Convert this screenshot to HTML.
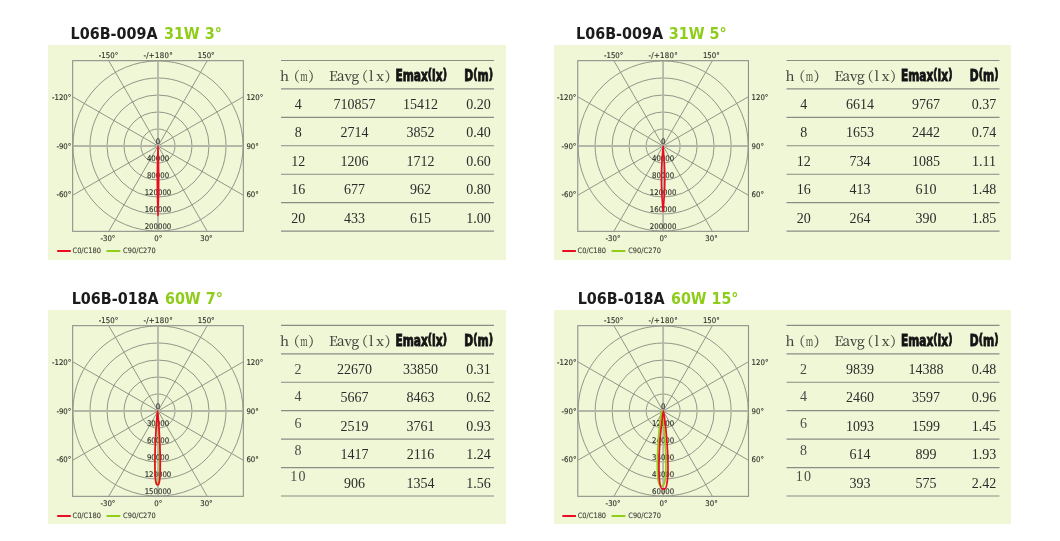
<!DOCTYPE html>
<html><head><meta charset="utf-8"><title>L06B photometric data</title><style>
html,body{margin:0;padding:0;background:#fff;}
svg{display:block;}
.ttl{font-family:"DejaVu Sans Condensed","DejaVu Sans",sans-serif;font-stretch:condensed;font-weight:bold;font-size:16.4px;stroke-width:0px;}
.lab text{font-family:"DejaVu Sans Condensed","DejaVu Sans",sans-serif;font-stretch:condensed;font-size:7.75px;fill:#303029;stroke:#303029;stroke-width:0.14px;}
.leg{font-family:"DejaVu Sans Condensed","DejaVu Sans",sans-serif;font-stretch:condensed;font-size:7.4px;fill:#3a3a32;stroke:#3a3a32;stroke-width:0.08px;}
.hs{font-family:"Noto Serif CJK SC",serif;font-size:13.6px;fill:#3d3d37;stroke:#3d3d37;stroke-width:0.12px;}
.imp{font-family:"DejaVu Sans Condensed","DejaVu Sans",sans-serif;font-stretch:condensed;font-weight:bold;font-size:15.5px;fill:#141414;stroke:#141414;stroke-width:0.85px;}
.par{font-size:13.6px;}
.num{font-family:"Liberation Serif",serif;font-size:14px;fill:#2b2b2b;}
.song{font-family:"Liberation Serif",serif;font-size:14px;fill:#4a4a46;letter-spacing:1.2px;}
</style></head>
<body><svg width="1060" height="541" viewBox="0 0 1060 541">
<rect width="1060" height="541" fill="#fff"/>
<rect x="48" y="45" width="458" height="215" fill="#f0f7d7"/>
<text x="70.60" y="39.3" class="ttl" fill="#1b1b1b" stroke="#1b1b1b" textLength="87.0" lengthAdjust="spacingAndGlyphs">L06B-009A</text>
<text x="163.90" y="39.3" class="ttl" fill="#8ecd1a" stroke="#8ecd1a" textLength="58.00" lengthAdjust="spacingAndGlyphs">31W 3°</text>
<g stroke="#8b9083" stroke-width="0.95" fill="none"><line x1="158" y1="146" x2="207.28" y2="231.35"/><line x1="158" y1="146" x2="108.72" y2="231.35"/><line x1="158" y1="146" x2="243.35" y2="195.28"/><line x1="158" y1="146" x2="72.65" y2="195.28"/><line x1="158" y1="146" x2="243.35" y2="96.72"/><line x1="158" y1="146" x2="72.65" y2="96.72"/><line x1="158" y1="146" x2="207.28" y2="60.65"/><line x1="158" y1="146" x2="108.72" y2="60.65"/><circle cx="158" cy="146" r="17.00"/><circle cx="158" cy="146" r="34.00"/><circle cx="158" cy="146" r="51.00"/><circle cx="158" cy="146" r="68.00"/><circle cx="158" cy="146" r="85.10"/></g>
<g stroke="#b3b7a7" stroke-width="1.8"><line x1="72.65" y1="146" x2="243.35" y2="146"/><line x1="158" y1="60.65" x2="158" y2="231.35"/></g>
<rect x="72.65" y="60.65" width="170.70" height="170.70" fill="none" stroke="#8e928a" stroke-width="1.1"/>
<g class="lab"><text x="158" y="143.7" text-anchor="middle">0</text><text x="158" y="160.8" text-anchor="middle">40000</text><text x="158" y="177.8" text-anchor="middle">80000</text><text x="158" y="194.8" text-anchor="middle">120000</text><text x="158" y="211.8" text-anchor="middle">160000</text><text x="158" y="228.8" text-anchor="middle">200000</text><text x="108.5" y="58.05" text-anchor="middle">-150°</text><text x="158.2" y="58.05" text-anchor="middle" letter-spacing="0.3">-/+180°</text><text x="206.2" y="58.05" text-anchor="middle">150°</text><text x="71.25" y="100.1" text-anchor="end">-120°</text><text x="246.45" y="100.1">120°</text><text x="71.25" y="149.0" text-anchor="end">-90°</text><text x="246.45" y="149.0">90°</text><text x="71.25" y="197.4" text-anchor="end">-60°</text><text x="246.45" y="197.4">60°</text><text x="107.9" y="241.35" text-anchor="middle">-30°</text><text x="158.3" y="241.35" text-anchor="middle">0°</text><text x="206.4" y="241.35" text-anchor="middle">30°</text></g>
<path d="M158.00,146.00 L158.03,146.77 L158.05,147.54 L158.08,148.32 L158.10,149.09 L158.13,149.86 L158.16,150.63 L158.18,151.41 L158.21,152.18 L158.23,152.95 L158.26,153.72 L158.28,154.49 L158.31,155.27 L158.33,156.04 L158.35,156.81 L158.38,157.58 L158.40,158.36 L158.42,159.13 L158.44,159.90 L158.46,160.67 L158.48,161.44 L158.50,162.22 L158.52,162.99 L158.54,163.76 L158.56,164.53 L158.57,165.31 L158.59,166.08 L158.61,166.85 L158.62,167.62 L158.64,168.39 L158.65,169.17 L158.66,169.94 L158.67,170.71 L158.69,171.48 L158.70,172.26 L158.70,173.03 L158.71,173.80 L158.72,174.57 L158.73,175.34 L158.73,176.12 L158.74,176.89 L158.74,177.66 L158.75,178.43 L158.75,179.21 L158.75,179.98 L158.75,180.75 L158.75,181.52 L158.75,182.29 L158.75,183.07 L158.74,183.84 L158.74,184.61 L158.73,185.38 L158.73,186.16 L158.72,186.93 L158.71,187.70 L158.70,188.47 L158.70,189.24 L158.69,190.02 L158.67,190.79 L158.66,191.56 L158.65,192.33 L158.64,193.11 L158.62,193.88 L158.61,194.65 L158.59,195.42 L158.57,196.19 L158.56,196.97 L158.54,197.74 L158.52,198.51 L158.50,199.28 L158.48,200.06 L158.46,200.83 L158.44,201.60 L158.42,202.37 L158.40,203.14 L158.38,203.92 L158.35,204.69 L158.33,205.46 L158.31,206.23 L158.28,207.01 L158.26,207.78 L158.23,208.55 L158.21,209.32 L158.18,210.09 L158.16,210.87 L158.13,211.64 L158.10,212.41 L158.08,213.18 L158.05,213.96 L158.03,214.73 L158.00,215.50 L158.00,215.50 L157.97,214.73 L157.95,213.96 L157.92,213.18 L157.90,212.41 L157.87,211.64 L157.84,210.87 L157.82,210.09 L157.79,209.32 L157.77,208.55 L157.74,207.78 L157.72,207.01 L157.69,206.23 L157.67,205.46 L157.65,204.69 L157.62,203.92 L157.60,203.14 L157.58,202.37 L157.56,201.60 L157.54,200.83 L157.52,200.06 L157.50,199.28 L157.48,198.51 L157.46,197.74 L157.44,196.97 L157.43,196.19 L157.41,195.42 L157.39,194.65 L157.38,193.88 L157.36,193.11 L157.35,192.33 L157.34,191.56 L157.33,190.79 L157.31,190.02 L157.30,189.24 L157.30,188.47 L157.29,187.70 L157.28,186.93 L157.27,186.16 L157.27,185.38 L157.26,184.61 L157.26,183.84 L157.25,183.07 L157.25,182.29 L157.25,181.52 L157.25,180.75 L157.25,179.98 L157.25,179.21 L157.25,178.43 L157.26,177.66 L157.26,176.89 L157.27,176.12 L157.27,175.34 L157.28,174.57 L157.29,173.80 L157.30,173.03 L157.30,172.26 L157.31,171.48 L157.33,170.71 L157.34,169.94 L157.35,169.17 L157.36,168.39 L157.38,167.62 L157.39,166.85 L157.41,166.08 L157.43,165.31 L157.44,164.53 L157.46,163.76 L157.48,162.99 L157.50,162.22 L157.52,161.44 L157.54,160.67 L157.56,159.90 L157.58,159.13 L157.60,158.36 L157.62,157.58 L157.65,156.81 L157.67,156.04 L157.69,155.27 L157.72,154.49 L157.74,153.72 L157.77,152.95 L157.79,152.18 L157.82,151.41 L157.84,150.63 L157.87,149.86 L157.90,149.09 L157.92,148.32 L157.95,147.54 L157.97,146.77 L158.00,146.00Z" fill="#ea0c20" stroke="#ea0c20" stroke-width="1.5" stroke-linejoin="round"/>
<line x1="57.2" y1="251" x2="70.8" y2="251" stroke="#ea0c20" stroke-width="2"/>
<text x="72.5" y="252.8" class="leg">C0/C180</text>
<line x1="106.5" y1="251" x2="120.3" y2="251" stroke="#91cd19" stroke-width="2"/>
<text x="123.1" y="252.8" class="leg">C90/C270</text>
<line x1="281" y1="60.5" x2="494" y2="60.5" stroke="#8a8c85" stroke-width="1.15"/>
<line x1="281" y1="88.93" x2="494" y2="88.93" stroke="#8a8c85" stroke-width="1.15"/>
<line x1="281" y1="117.36" x2="494" y2="117.36" stroke="#8a8c85" stroke-width="1.15"/>
<line x1="281" y1="145.79" x2="494" y2="145.79" stroke="#8a8c85" stroke-width="1.15"/>
<line x1="281" y1="174.22" x2="494" y2="174.22" stroke="#8a8c85" stroke-width="1.15"/>
<line x1="281" y1="202.65" x2="494" y2="202.65" stroke="#8a8c85" stroke-width="1.15"/>
<line x1="281" y1="231.08" x2="494" y2="231.08" stroke="#8a8c85" stroke-width="1.15"/>
<text x="280.00" y="80.7" class="hs">h</text>
<text x="286.30" y="80.7" class="hs">（</text>
<text transform="translate(300.20,80.7) scale(0.56,1)" class="hs">m</text>
<text x="308.00" y="80.7" class="hs">）</text>
<text x="329.00" y="80.7" class="hs">E</text>
<text x="337.00" y="80.7" class="hs">a</text>
<text x="344.60" y="80.7" class="hs">v</text>
<text x="351.40" y="80.7" class="hs">g</text>
<text x="354.40" y="80.7" class="hs">（</text>
<text x="368.90" y="80.7" class="hs">l</text>
<text x="376.20" y="80.7" class="hs">x</text>
<text x="384.40" y="80.7" class="hs">）</text>
<text x="395.4" y="80.5" class="imp" textLength="51.5" lengthAdjust="spacingAndGlyphs">Emax<tspan class="par" dy="-1.1">(</tspan><tspan dy="1.1">lx</tspan><tspan class="par" dy="-1.1">)</tspan></text>
<text x="464.3" y="80.5" class="imp" textLength="28.7" lengthAdjust="spacingAndGlyphs">D<tspan class="par" dy="-1.1">(</tspan><tspan dy="1.1">m</tspan><tspan class="par" dy="-1.1">)</tspan></text>
<text x="298.3" y="109.03" class="num" text-anchor="middle">4</text>
<text x="354.5" y="109.03" class="num" text-anchor="middle">710857</text>
<text x="420.6" y="109.03" class="num" text-anchor="middle">15412</text>
<text x="478.5" y="109.03" class="num" text-anchor="middle">0.20</text>
<text x="298.3" y="137.46" class="num" text-anchor="middle">8</text>
<text x="354.5" y="137.46" class="num" text-anchor="middle">2714</text>
<text x="420.6" y="137.46" class="num" text-anchor="middle">3852</text>
<text x="478.5" y="137.46" class="num" text-anchor="middle">0.40</text>
<text x="298.3" y="165.89" class="num" text-anchor="middle">12</text>
<text x="354.5" y="165.89" class="num" text-anchor="middle">1206</text>
<text x="420.6" y="165.89" class="num" text-anchor="middle">1712</text>
<text x="478.5" y="165.89" class="num" text-anchor="middle">0.60</text>
<text x="298.3" y="194.32" class="num" text-anchor="middle">16</text>
<text x="354.5" y="194.32" class="num" text-anchor="middle">677</text>
<text x="420.6" y="194.32" class="num" text-anchor="middle">962</text>
<text x="478.5" y="194.32" class="num" text-anchor="middle">0.80</text>
<text x="298.3" y="222.75" class="num" text-anchor="middle">20</text>
<text x="354.5" y="222.75" class="num" text-anchor="middle">433</text>
<text x="420.6" y="222.75" class="num" text-anchor="middle">615</text>
<text x="478.5" y="222.75" class="num" text-anchor="middle">1.00</text>
<rect x="554" y="45" width="457" height="215" fill="#f0f7d7"/>
<text x="576.10" y="39.3" class="ttl" fill="#1b1b1b" stroke="#1b1b1b" textLength="87.0" lengthAdjust="spacingAndGlyphs">L06B-009A</text>
<text x="668.80" y="39.3" class="ttl" fill="#8ecd1a" stroke="#8ecd1a" textLength="58.00" lengthAdjust="spacingAndGlyphs">31W 5°</text>
<g stroke="#8b9083" stroke-width="0.95" fill="none"><line x1="663.1" y1="146" x2="712.38" y2="231.35"/><line x1="663.1" y1="146" x2="613.82" y2="231.35"/><line x1="663.1" y1="146" x2="748.45" y2="195.28"/><line x1="663.1" y1="146" x2="577.75" y2="195.28"/><line x1="663.1" y1="146" x2="748.45" y2="96.72"/><line x1="663.1" y1="146" x2="577.75" y2="96.72"/><line x1="663.1" y1="146" x2="712.38" y2="60.65"/><line x1="663.1" y1="146" x2="613.82" y2="60.65"/><circle cx="663.1" cy="146" r="17.00"/><circle cx="663.1" cy="146" r="34.00"/><circle cx="663.1" cy="146" r="51.00"/><circle cx="663.1" cy="146" r="68.00"/><circle cx="663.1" cy="146" r="85.10"/></g>
<g stroke="#b3b7a7" stroke-width="1.8"><line x1="577.75" y1="146" x2="748.45" y2="146"/><line x1="663.1" y1="60.65" x2="663.1" y2="231.35"/></g>
<rect x="577.75" y="60.65" width="170.70" height="170.70" fill="none" stroke="#8e928a" stroke-width="1.1"/>
<g class="lab"><text x="663.1" y="143.7" text-anchor="middle">0</text><text x="663.1" y="160.8" text-anchor="middle">40000</text><text x="663.1" y="177.8" text-anchor="middle">80000</text><text x="663.1" y="194.8" text-anchor="middle">120000</text><text x="663.1" y="211.8" text-anchor="middle">160000</text><text x="663.1" y="228.8" text-anchor="middle">200000</text><text x="613.6" y="58.05" text-anchor="middle">-150°</text><text x="663.3" y="58.05" text-anchor="middle" letter-spacing="0.3">-/+180°</text><text x="711.3" y="58.05" text-anchor="middle">150°</text><text x="576.35" y="100.1" text-anchor="end">-120°</text><text x="751.55" y="100.1">120°</text><text x="576.35" y="149.0" text-anchor="end">-90°</text><text x="751.55" y="149.0">90°</text><text x="576.35" y="197.4" text-anchor="end">-60°</text><text x="751.55" y="197.4">60°</text><text x="613.0" y="241.35" text-anchor="middle">-30°</text><text x="663.4" y="241.35" text-anchor="middle">0°</text><text x="711.5" y="241.35" text-anchor="middle">30°</text></g>
<path d="M663.10,146.00 L663.16,146.73 L663.22,147.46 L663.28,148.18 L663.34,148.91 L663.40,149.64 L663.45,150.37 L663.51,151.09 L663.57,151.82 L663.63,152.55 L663.68,153.28 L663.74,154.01 L663.79,154.73 L663.85,155.46 L663.90,156.19 L663.95,156.92 L664.00,157.64 L664.05,158.37 L664.10,159.10 L664.15,159.83 L664.19,160.56 L664.24,161.28 L664.28,162.01 L664.32,162.74 L664.36,163.47 L664.40,164.19 L664.44,164.92 L664.48,165.65 L664.51,166.38 L664.54,167.11 L664.57,167.83 L664.60,168.56 L664.63,169.29 L664.65,170.02 L664.68,170.74 L664.70,171.47 L664.72,172.20 L664.73,172.93 L664.75,173.66 L664.76,174.38 L664.77,175.11 L664.78,175.84 L664.79,176.57 L664.80,177.29 L664.80,178.02 L664.80,178.75 L664.80,179.48 L664.80,180.21 L664.79,180.93 L664.78,181.66 L664.77,182.39 L664.76,183.12 L664.75,183.84 L664.73,184.57 L664.72,185.30 L664.70,186.03 L664.68,186.76 L664.65,187.48 L664.63,188.21 L664.60,188.94 L664.57,189.67 L664.54,190.39 L664.51,191.12 L664.48,191.85 L664.44,192.58 L664.40,193.31 L664.36,194.03 L664.32,194.76 L664.28,195.49 L664.24,196.22 L664.19,196.94 L664.15,197.67 L664.10,198.40 L664.05,199.13 L664.00,199.86 L663.95,200.58 L663.90,201.31 L663.85,202.04 L663.79,202.77 L663.74,203.49 L663.68,204.22 L663.63,204.95 L663.57,205.68 L663.51,206.41 L663.45,207.13 L663.40,207.86 L663.34,208.59 L663.28,209.32 L663.22,210.04 L663.16,210.77 L663.10,211.50 L663.10,211.50 L663.04,210.77 L662.98,210.04 L662.92,209.32 L662.86,208.59 L662.80,207.86 L662.75,207.13 L662.69,206.41 L662.63,205.68 L662.57,204.95 L662.52,204.22 L662.46,203.49 L662.41,202.77 L662.35,202.04 L662.30,201.31 L662.25,200.58 L662.20,199.86 L662.15,199.13 L662.10,198.40 L662.05,197.67 L662.01,196.94 L661.96,196.22 L661.92,195.49 L661.88,194.76 L661.84,194.03 L661.80,193.31 L661.76,192.58 L661.72,191.85 L661.69,191.12 L661.66,190.39 L661.63,189.67 L661.60,188.94 L661.57,188.21 L661.55,187.48 L661.52,186.76 L661.50,186.03 L661.48,185.30 L661.47,184.57 L661.45,183.84 L661.44,183.12 L661.43,182.39 L661.42,181.66 L661.41,180.93 L661.40,180.21 L661.40,179.48 L661.40,178.75 L661.40,178.02 L661.40,177.29 L661.41,176.57 L661.42,175.84 L661.43,175.11 L661.44,174.38 L661.45,173.66 L661.47,172.93 L661.48,172.20 L661.50,171.47 L661.52,170.74 L661.55,170.02 L661.57,169.29 L661.60,168.56 L661.63,167.83 L661.66,167.11 L661.69,166.38 L661.72,165.65 L661.76,164.92 L661.80,164.19 L661.84,163.47 L661.88,162.74 L661.92,162.01 L661.96,161.28 L662.01,160.56 L662.05,159.83 L662.10,159.10 L662.15,158.37 L662.20,157.64 L662.25,156.92 L662.30,156.19 L662.35,155.46 L662.41,154.73 L662.46,154.01 L662.52,153.28 L662.57,152.55 L662.63,151.82 L662.69,151.09 L662.75,150.37 L662.80,149.64 L662.86,148.91 L662.92,148.18 L662.98,147.46 L663.04,146.73 L663.10,146.00Z" fill="none" stroke="#ea0c20" stroke-width="1.6" stroke-linejoin="round"/>
<line x1="562.3" y1="251" x2="575.9" y2="251" stroke="#ea0c20" stroke-width="2"/>
<text x="577.6" y="252.8" class="leg">C0/C180</text>
<line x1="611.6" y1="251" x2="625.4" y2="251" stroke="#91cd19" stroke-width="2"/>
<text x="628.2" y="252.8" class="leg">C90/C270</text>
<line x1="786.5" y1="60.5" x2="999.5" y2="60.5" stroke="#8a8c85" stroke-width="1.15"/>
<line x1="786.5" y1="88.93" x2="999.5" y2="88.93" stroke="#8a8c85" stroke-width="1.15"/>
<line x1="786.5" y1="117.36" x2="999.5" y2="117.36" stroke="#8a8c85" stroke-width="1.15"/>
<line x1="786.5" y1="145.79" x2="999.5" y2="145.79" stroke="#8a8c85" stroke-width="1.15"/>
<line x1="786.5" y1="174.22" x2="999.5" y2="174.22" stroke="#8a8c85" stroke-width="1.15"/>
<line x1="786.5" y1="202.65" x2="999.5" y2="202.65" stroke="#8a8c85" stroke-width="1.15"/>
<line x1="786.5" y1="231.08" x2="999.5" y2="231.08" stroke="#8a8c85" stroke-width="1.15"/>
<text x="785.50" y="80.7" class="hs">h</text>
<text x="791.80" y="80.7" class="hs">（</text>
<text transform="translate(805.70,80.7) scale(0.56,1)" class="hs">m</text>
<text x="813.50" y="80.7" class="hs">）</text>
<text x="834.50" y="80.7" class="hs">E</text>
<text x="842.50" y="80.7" class="hs">a</text>
<text x="850.10" y="80.7" class="hs">v</text>
<text x="856.90" y="80.7" class="hs">g</text>
<text x="859.90" y="80.7" class="hs">（</text>
<text x="874.40" y="80.7" class="hs">l</text>
<text x="881.70" y="80.7" class="hs">x</text>
<text x="889.90" y="80.7" class="hs">）</text>
<text x="900.9" y="80.5" class="imp" textLength="51.5" lengthAdjust="spacingAndGlyphs">Emax<tspan class="par" dy="-1.1">(</tspan><tspan dy="1.1">lx</tspan><tspan class="par" dy="-1.1">)</tspan></text>
<text x="969.8" y="80.5" class="imp" textLength="28.7" lengthAdjust="spacingAndGlyphs">D<tspan class="par" dy="-1.1">(</tspan><tspan dy="1.1">m</tspan><tspan class="par" dy="-1.1">)</tspan></text>
<text x="803.8" y="109.03" class="num" text-anchor="middle">4</text>
<text x="860.0" y="109.03" class="num" text-anchor="middle">6614</text>
<text x="926.1" y="109.03" class="num" text-anchor="middle">9767</text>
<text x="984.0" y="109.03" class="num" text-anchor="middle">0.37</text>
<text x="803.8" y="137.46" class="num" text-anchor="middle">8</text>
<text x="860.0" y="137.46" class="num" text-anchor="middle">1653</text>
<text x="926.1" y="137.46" class="num" text-anchor="middle">2442</text>
<text x="984.0" y="137.46" class="num" text-anchor="middle">0.74</text>
<text x="803.8" y="165.89" class="num" text-anchor="middle">12</text>
<text x="860.0" y="165.89" class="num" text-anchor="middle">734</text>
<text x="926.1" y="165.89" class="num" text-anchor="middle">1085</text>
<text x="984.0" y="165.89" class="num" text-anchor="middle">1.11</text>
<text x="803.8" y="194.32" class="num" text-anchor="middle">16</text>
<text x="860.0" y="194.32" class="num" text-anchor="middle">413</text>
<text x="926.1" y="194.32" class="num" text-anchor="middle">610</text>
<text x="984.0" y="194.32" class="num" text-anchor="middle">1.48</text>
<text x="803.8" y="222.75" class="num" text-anchor="middle">20</text>
<text x="860.0" y="222.75" class="num" text-anchor="middle">264</text>
<text x="926.1" y="222.75" class="num" text-anchor="middle">390</text>
<text x="984.0" y="222.75" class="num" text-anchor="middle">1.85</text>
<rect x="48" y="310" width="458" height="214" fill="#f0f7d7"/>
<text x="71.70" y="304.4" class="ttl" fill="#1b1b1b" stroke="#1b1b1b" textLength="87.0" lengthAdjust="spacingAndGlyphs">L06B-018A</text>
<text x="164.90" y="304.4" class="ttl" fill="#8ecd1a" stroke="#8ecd1a" textLength="58.00" lengthAdjust="spacingAndGlyphs">60W 7°</text>
<g stroke="#8b9083" stroke-width="0.95" fill="none"><line x1="158" y1="411" x2="207.28" y2="496.35"/><line x1="158" y1="411" x2="108.72" y2="496.35"/><line x1="158" y1="411" x2="243.35" y2="460.28"/><line x1="158" y1="411" x2="72.65" y2="460.28"/><line x1="158" y1="411" x2="243.35" y2="361.72"/><line x1="158" y1="411" x2="72.65" y2="361.72"/><line x1="158" y1="411" x2="207.28" y2="325.65"/><line x1="158" y1="411" x2="108.72" y2="325.65"/><circle cx="158" cy="411" r="17.00"/><circle cx="158" cy="411" r="34.00"/><circle cx="158" cy="411" r="51.00"/><circle cx="158" cy="411" r="68.00"/><circle cx="158" cy="411" r="85.10"/></g>
<g stroke="#b3b7a7" stroke-width="1.8"><line x1="72.65" y1="411" x2="243.35" y2="411"/><line x1="158" y1="325.65" x2="158" y2="496.35"/></g>
<rect x="72.65" y="325.65" width="170.70" height="170.70" fill="none" stroke="#8e928a" stroke-width="1.1"/>
<g class="lab"><text x="158" y="408.7" text-anchor="middle">0</text><text x="158" y="425.8" text-anchor="middle">30000</text><text x="158" y="442.8" text-anchor="middle">60000</text><text x="158" y="459.8" text-anchor="middle">90000</text><text x="158" y="476.8" text-anchor="middle">120000</text><text x="158" y="493.8" text-anchor="middle">150000</text><text x="108.5" y="323.05" text-anchor="middle">-150°</text><text x="158.2" y="323.05" text-anchor="middle" letter-spacing="0.3">-/+180°</text><text x="206.2" y="323.05" text-anchor="middle">150°</text><text x="71.25" y="365.1" text-anchor="end">-120°</text><text x="246.45" y="365.1">120°</text><text x="71.25" y="414.0" text-anchor="end">-90°</text><text x="246.45" y="414.0">90°</text><text x="71.25" y="462.4" text-anchor="end">-60°</text><text x="246.45" y="462.4">60°</text><text x="107.9" y="506.35" text-anchor="middle">-30°</text><text x="158.3" y="506.35" text-anchor="middle">0°</text><text x="206.4" y="506.35" text-anchor="middle">30°</text></g>
<path d="M157.30,411.01 L157.30,411.01 L157.30,411.02 L157.30,411.03 L157.30,411.03 L157.29,411.04 L157.29,411.06 L157.29,411.07 L157.29,411.09 L157.29,411.12 L157.28,411.15 L157.28,411.19 L157.27,411.24 L157.27,411.29 L157.26,411.36 L157.25,411.45 L157.24,411.54 L157.23,411.66 L157.22,411.80 L157.20,411.96 L157.18,412.15 L157.16,412.38 L157.14,412.63 L157.11,412.92 L157.08,413.26 L157.05,413.63 L157.02,414.06 L156.98,414.54 L156.93,415.08 L156.89,415.68 L156.84,416.34 L156.78,417.07 L156.72,417.88 L156.66,418.75 L156.59,419.70 L156.53,420.73 L156.45,421.83 L156.38,423.01 L156.30,424.27 L156.22,425.61 L156.14,427.02 L156.06,428.51 L155.98,430.07 L155.89,431.69 L155.81,433.38 L155.73,435.12 L155.65,436.91 L155.57,438.75 L155.50,440.63 L155.43,442.53 L155.36,444.46 L155.30,446.41 L155.25,448.36 L155.20,450.31 L155.15,452.26 L155.11,454.18 L155.08,456.09 L155.06,457.96 L155.04,459.79 L155.03,461.57 L155.03,463.31 L155.04,464.98 L155.05,466.60 L155.07,468.14 L155.10,469.62 L155.13,471.01 L155.17,472.33 L155.22,473.57 L155.27,474.73 L155.33,475.81 L155.40,476.81 L155.47,477.72 L155.54,478.56 L155.62,479.31 L155.71,479.99 L155.79,480.59 L155.88,481.13 L155.97,481.59 L156.07,481.99 L156.17,482.34 L156.27,482.62 L156.37,482.86 L156.47,483.05 L156.57,483.20 L156.67,483.31 L156.78,483.39 L156.88,483.44 L156.99,483.48 L157.09,483.49 L157.20,483.50 L157.30,483.50 L157.40,483.50 L157.51,483.49 L157.61,483.48 L157.72,483.44 L157.82,483.39 L157.93,483.31 L158.03,483.20 L158.13,483.05 L158.23,482.86 L158.33,482.62 L158.43,482.34 L158.53,481.99 L158.63,481.59 L158.72,481.13 L158.81,480.59 L158.89,479.99 L158.98,479.31 L159.06,478.56 L159.13,477.72 L159.20,476.81 L159.27,475.81 L159.33,474.73 L159.38,473.57 L159.43,472.33 L159.47,471.01 L159.50,469.62 L159.53,468.14 L159.55,466.60 L159.56,464.98 L159.57,463.31 L159.57,461.57 L159.56,459.79 L159.54,457.96 L159.52,456.09 L159.49,454.18 L159.45,452.26 L159.40,450.31 L159.35,448.36 L159.30,446.41 L159.24,444.46 L159.17,442.53 L159.10,440.63 L159.03,438.75 L158.95,436.91 L158.87,435.12 L158.79,433.38 L158.71,431.69 L158.62,430.07 L158.54,428.51 L158.46,427.02 L158.38,425.61 L158.30,424.27 L158.22,423.01 L158.15,421.83 L158.07,420.73 L158.01,419.70 L157.94,418.75 L157.88,417.88 L157.82,417.07 L157.76,416.34 L157.71,415.68 L157.67,415.08 L157.62,414.54 L157.58,414.06 L157.55,413.63 L157.52,413.26 L157.49,412.92 L157.46,412.63 L157.44,412.38 L157.42,412.15 L157.40,411.96 L157.38,411.80 L157.37,411.66 L157.36,411.54 L157.35,411.45 L157.34,411.36 L157.33,411.29 L157.33,411.24 L157.32,411.19 L157.32,411.15 L157.31,411.12 L157.31,411.09 L157.31,411.07 L157.31,411.06 L157.31,411.04 L157.30,411.03 L157.30,411.03 L157.30,411.02 L157.30,411.01 L157.30,411.01Z" fill="none" stroke="#91cd19" stroke-width="1.4" stroke-linejoin="round"/>
<path d="M157.60,411.01 L157.60,411.01 L157.60,411.02 L157.60,411.03 L157.60,411.03 L157.59,411.04 L157.59,411.06 L157.59,411.07 L157.59,411.09 L157.58,411.12 L157.58,411.15 L157.57,411.19 L157.57,411.24 L157.56,411.30 L157.55,411.37 L157.54,411.45 L157.53,411.55 L157.52,411.67 L157.50,411.81 L157.48,411.98 L157.46,412.17 L157.44,412.40 L157.41,412.66 L157.38,412.95 L157.35,413.29 L157.31,413.68 L157.26,414.11 L157.22,414.60 L157.17,415.15 L157.11,415.76 L157.05,416.43 L156.99,417.18 L156.92,417.99 L156.85,418.88 L156.77,419.85 L156.69,420.89 L156.60,422.01 L156.51,423.22 L156.42,424.50 L156.33,425.86 L156.23,427.30 L156.13,428.81 L156.04,430.39 L155.94,432.05 L155.84,433.76 L155.75,435.53 L155.65,437.36 L155.56,439.23 L155.48,441.14 L155.39,443.08 L155.31,445.04 L155.24,447.02 L155.18,449.01 L155.12,451.00 L155.06,452.98 L155.02,454.94 L154.98,456.88 L154.96,458.78 L154.94,460.65 L154.92,462.46 L154.92,464.23 L154.93,465.94 L154.94,467.58 L154.97,469.15 L155.00,470.65 L155.04,472.08 L155.09,473.42 L155.14,474.68 L155.21,475.87 L155.28,476.96 L155.35,477.98 L155.44,478.91 L155.53,479.76 L155.62,480.53 L155.72,481.22 L155.82,481.84 L155.93,482.38 L156.03,482.85 L156.15,483.26 L156.26,483.61 L156.38,483.91 L156.50,484.15 L156.62,484.34 L156.74,484.49 L156.86,484.60 L156.98,484.69 L157.11,484.74 L157.23,484.78 L157.35,484.79 L157.48,484.80 L157.60,484.80 L157.72,484.80 L157.85,484.79 L157.97,484.78 L158.09,484.74 L158.22,484.69 L158.34,484.60 L158.46,484.49 L158.58,484.34 L158.70,484.15 L158.82,483.91 L158.94,483.61 L159.05,483.26 L159.17,482.85 L159.27,482.38 L159.38,481.84 L159.48,481.22 L159.58,480.53 L159.67,479.76 L159.76,478.91 L159.85,477.98 L159.92,476.96 L159.99,475.87 L160.06,474.68 L160.11,473.42 L160.16,472.08 L160.20,470.65 L160.23,469.15 L160.26,467.58 L160.27,465.94 L160.28,464.23 L160.28,462.46 L160.26,460.65 L160.24,458.78 L160.22,456.88 L160.18,454.94 L160.14,452.98 L160.08,451.00 L160.02,449.01 L159.96,447.02 L159.89,445.04 L159.81,443.08 L159.72,441.14 L159.64,439.23 L159.55,437.36 L159.45,435.53 L159.36,433.76 L159.26,432.05 L159.16,430.39 L159.07,428.81 L158.97,427.30 L158.87,425.86 L158.78,424.50 L158.69,423.22 L158.60,422.01 L158.51,420.89 L158.43,419.85 L158.35,418.88 L158.28,417.99 L158.21,417.18 L158.15,416.43 L158.09,415.76 L158.03,415.15 L157.98,414.60 L157.94,414.11 L157.89,413.68 L157.85,413.29 L157.82,412.95 L157.79,412.66 L157.76,412.40 L157.74,412.17 L157.72,411.98 L157.70,411.81 L157.68,411.67 L157.67,411.55 L157.66,411.45 L157.65,411.37 L157.64,411.30 L157.63,411.24 L157.63,411.19 L157.62,411.15 L157.62,411.12 L157.61,411.09 L157.61,411.07 L157.61,411.06 L157.61,411.04 L157.60,411.03 L157.60,411.03 L157.60,411.02 L157.60,411.01 L157.60,411.01Z" fill="none" stroke="#ea0c20" stroke-width="1.7" stroke-linejoin="round"/>
<line x1="57.2" y1="516" x2="70.8" y2="516" stroke="#ea0c20" stroke-width="2"/>
<text x="72.5" y="517.8" class="leg">C0/C180</text>
<line x1="106.5" y1="516" x2="120.3" y2="516" stroke="#91cd19" stroke-width="2"/>
<text x="123.1" y="517.8" class="leg">C90/C270</text>
<line x1="281" y1="325.4" x2="494" y2="325.4" stroke="#8a8c85" stroke-width="1.15"/>
<line x1="281" y1="353.83" x2="494" y2="353.83" stroke="#8a8c85" stroke-width="1.15"/>
<line x1="281" y1="382.26" x2="494" y2="382.26" stroke="#8a8c85" stroke-width="1.15"/>
<line x1="281" y1="410.69" x2="494" y2="410.69" stroke="#8a8c85" stroke-width="1.15"/>
<line x1="281" y1="439.12" x2="494" y2="439.12" stroke="#8a8c85" stroke-width="1.15"/>
<line x1="281" y1="467.55" x2="494" y2="467.55" stroke="#8a8c85" stroke-width="1.15"/>
<line x1="281" y1="495.98" x2="494" y2="495.98" stroke="#8a8c85" stroke-width="1.15"/>
<text x="280.00" y="345.7" class="hs">h</text>
<text x="286.30" y="345.7" class="hs">（</text>
<text transform="translate(300.20,345.7) scale(0.56,1)" class="hs">m</text>
<text x="308.00" y="345.7" class="hs">）</text>
<text x="329.00" y="345.7" class="hs">E</text>
<text x="337.00" y="345.7" class="hs">a</text>
<text x="344.60" y="345.7" class="hs">v</text>
<text x="351.40" y="345.7" class="hs">g</text>
<text x="354.40" y="345.7" class="hs">（</text>
<text x="368.90" y="345.7" class="hs">l</text>
<text x="376.20" y="345.7" class="hs">x</text>
<text x="384.40" y="345.7" class="hs">）</text>
<text x="395.4" y="345.5" class="imp" textLength="51.5" lengthAdjust="spacingAndGlyphs">Emax<tspan class="par" dy="-1.1">(</tspan><tspan dy="1.1">lx</tspan><tspan class="par" dy="-1.1">)</tspan></text>
<text x="464.3" y="345.5" class="imp" textLength="28.7" lengthAdjust="spacingAndGlyphs">D<tspan class="par" dy="-1.1">(</tspan><tspan dy="1.1">m</tspan><tspan class="par" dy="-1.1">)</tspan></text>
<text x="298.5" y="373.7" class="song" text-anchor="middle">2</text>
<text x="354.5" y="373.93" class="num" text-anchor="middle">22670</text>
<text x="420.6" y="373.93" class="num" text-anchor="middle">33850</text>
<text x="478.5" y="373.93" class="num" text-anchor="middle">0.31</text>
<text x="298.5" y="401.4" class="song" text-anchor="middle">4</text>
<text x="354.5" y="402.36" class="num" text-anchor="middle">5667</text>
<text x="420.6" y="402.36" class="num" text-anchor="middle">8463</text>
<text x="478.5" y="402.36" class="num" text-anchor="middle">0.62</text>
<text x="298.5" y="428" class="song" text-anchor="middle">6</text>
<text x="354.5" y="430.79" class="num" text-anchor="middle">2519</text>
<text x="420.6" y="430.79" class="num" text-anchor="middle">3761</text>
<text x="478.5" y="430.79" class="num" text-anchor="middle">0.93</text>
<text x="298.5" y="455.3" class="song" text-anchor="middle">8</text>
<text x="354.5" y="459.22" class="num" text-anchor="middle">1417</text>
<text x="420.6" y="459.22" class="num" text-anchor="middle">2116</text>
<text x="478.5" y="459.22" class="num" text-anchor="middle">1.24</text>
<text x="298.5" y="480.8" class="song" text-anchor="middle">10</text>
<text x="354.5" y="487.65" class="num" text-anchor="middle">906</text>
<text x="420.6" y="487.65" class="num" text-anchor="middle">1354</text>
<text x="478.5" y="487.65" class="num" text-anchor="middle">1.56</text>
<rect x="554" y="310" width="457" height="214" fill="#f0f7d7"/>
<text x="577.70" y="304.4" class="ttl" fill="#1b1b1b" stroke="#1b1b1b" textLength="87.0" lengthAdjust="spacingAndGlyphs">L06B-018A</text>
<text x="671.00" y="304.4" class="ttl" fill="#8ecd1a" stroke="#8ecd1a" textLength="67.50" lengthAdjust="spacingAndGlyphs">60W 15°</text>
<g stroke="#8b9083" stroke-width="0.95" fill="none"><line x1="663.15" y1="411" x2="712.43" y2="496.35"/><line x1="663.15" y1="411" x2="613.87" y2="496.35"/><line x1="663.15" y1="411" x2="748.50" y2="460.28"/><line x1="663.15" y1="411" x2="577.80" y2="460.28"/><line x1="663.15" y1="411" x2="748.50" y2="361.72"/><line x1="663.15" y1="411" x2="577.80" y2="361.72"/><line x1="663.15" y1="411" x2="712.43" y2="325.65"/><line x1="663.15" y1="411" x2="613.87" y2="325.65"/><circle cx="663.15" cy="411" r="17.00"/><circle cx="663.15" cy="411" r="34.00"/><circle cx="663.15" cy="411" r="51.00"/><circle cx="663.15" cy="411" r="68.00"/><circle cx="663.15" cy="411" r="85.10"/></g>
<g stroke="#b3b7a7" stroke-width="1.8"><line x1="577.8" y1="411" x2="748.5" y2="411"/><line x1="663.15" y1="325.65" x2="663.15" y2="496.35"/></g>
<rect x="577.80" y="325.65" width="170.70" height="170.70" fill="none" stroke="#8e928a" stroke-width="1.1"/>
<g class="lab"><text x="663.15" y="408.7" text-anchor="middle">0</text><text x="663.15" y="425.8" text-anchor="middle">12000</text><text x="663.15" y="442.8" text-anchor="middle">24000</text><text x="663.15" y="459.8" text-anchor="middle">36000</text><text x="663.15" y="476.8" text-anchor="middle">48000</text><text x="663.15" y="493.8" text-anchor="middle">60000</text><text x="613.65" y="323.05" text-anchor="middle">-150°</text><text x="663.35" y="323.05" text-anchor="middle" letter-spacing="0.3">-/+180°</text><text x="711.35" y="323.05" text-anchor="middle">150°</text><text x="576.4" y="365.1" text-anchor="end">-120°</text><text x="751.6" y="365.1">120°</text><text x="576.4" y="414.0" text-anchor="end">-90°</text><text x="751.6" y="414.0">90°</text><text x="576.4" y="462.4" text-anchor="end">-60°</text><text x="751.6" y="462.4">60°</text><text x="613.05" y="506.35" text-anchor="middle">-30°</text><text x="663.45" y="506.35" text-anchor="middle">0°</text><text x="711.55" y="506.35" text-anchor="middle">30°</text></g>
<path d="M661.65,411.01 L661.65,411.01 L661.65,411.02 L661.64,411.03 L661.64,411.03 L661.64,411.04 L661.64,411.06 L661.63,411.07 L661.63,411.10 L661.62,411.12 L661.62,411.15 L661.61,411.19 L661.60,411.24 L661.59,411.30 L661.57,411.37 L661.56,411.45 L661.54,411.56 L661.52,411.68 L661.49,411.82 L661.46,411.99 L661.43,412.18 L661.39,412.41 L661.35,412.67 L661.30,412.97 L661.24,413.31 L661.18,413.70 L661.11,414.14 L661.04,414.63 L660.96,415.18 L660.87,415.80 L660.77,416.48 L660.67,417.23 L660.56,418.05 L660.44,418.95 L660.32,419.93 L660.19,420.99 L660.05,422.12 L659.91,423.34 L659.76,424.64 L659.61,426.02 L659.46,427.48 L659.30,429.01 L659.15,430.61 L658.99,432.29 L658.83,434.03 L658.68,435.83 L658.53,437.68 L658.38,439.58 L658.24,441.51 L658.11,443.48 L657.99,445.48 L657.87,447.49 L657.76,449.51 L657.67,451.53 L657.58,453.54 L657.51,455.54 L657.45,457.51 L657.41,459.45 L657.38,461.34 L657.36,463.20 L657.35,464.99 L657.36,466.73 L657.39,468.40 L657.43,470.01 L657.48,471.54 L657.54,472.99 L657.62,474.36 L657.71,475.65 L657.81,476.85 L657.92,477.97 L658.05,479.01 L658.18,479.96 L658.32,480.83 L658.47,481.62 L658.63,482.32 L658.79,482.95 L658.96,483.51 L659.14,484.00 L659.32,484.42 L659.50,484.77 L659.69,485.08 L659.88,485.32 L660.07,485.52 L660.27,485.68 L660.46,485.80 L660.66,485.88 L660.86,485.94 L661.05,485.97 L661.25,485.99 L661.45,486.00 L661.65,486.00 L661.85,486.00 L662.05,485.99 L662.25,485.97 L662.44,485.94 L662.64,485.88 L662.84,485.80 L663.03,485.68 L663.23,485.52 L663.42,485.32 L663.61,485.08 L663.80,484.77 L663.98,484.42 L664.16,484.00 L664.34,483.51 L664.51,482.95 L664.67,482.32 L664.83,481.62 L664.98,480.83 L665.12,479.96 L665.25,479.01 L665.38,477.97 L665.49,476.85 L665.59,475.65 L665.68,474.36 L665.76,472.99 L665.82,471.54 L665.87,470.01 L665.91,468.40 L665.94,466.73 L665.95,464.99 L665.94,463.20 L665.92,461.34 L665.89,459.45 L665.85,457.51 L665.79,455.54 L665.72,453.54 L665.63,451.53 L665.54,449.51 L665.43,447.49 L665.31,445.48 L665.19,443.48 L665.06,441.51 L664.92,439.58 L664.77,437.68 L664.62,435.83 L664.47,434.03 L664.31,432.29 L664.15,430.61 L664.00,429.01 L663.84,427.48 L663.69,426.02 L663.54,424.64 L663.39,423.34 L663.25,422.12 L663.11,420.99 L662.98,419.93 L662.86,418.95 L662.74,418.05 L662.63,417.23 L662.53,416.48 L662.43,415.80 L662.34,415.18 L662.26,414.63 L662.19,414.14 L662.12,413.70 L662.06,413.31 L662.00,412.97 L661.95,412.67 L661.91,412.41 L661.87,412.18 L661.84,411.99 L661.81,411.82 L661.78,411.68 L661.76,411.56 L661.74,411.45 L661.73,411.37 L661.71,411.30 L661.70,411.24 L661.69,411.19 L661.68,411.15 L661.68,411.12 L661.67,411.10 L661.67,411.07 L661.66,411.06 L661.66,411.04 L661.66,411.03 L661.66,411.03 L661.65,411.02 L661.65,411.01 L661.65,411.01Z" fill="none" stroke="#91cd19" stroke-width="1.7" stroke-linejoin="round"/>
<path d="M663.45,411.01 L663.45,411.02 L663.45,411.02 L663.44,411.03 L663.44,411.04 L663.44,411.05 L663.44,411.06 L663.43,411.08 L663.43,411.10 L663.42,411.13 L663.42,411.16 L663.41,411.20 L663.40,411.25 L663.39,411.31 L663.37,411.38 L663.35,411.47 L663.33,411.58 L663.31,411.70 L663.28,411.85 L663.25,412.02 L663.22,412.23 L663.18,412.46 L663.13,412.73 L663.08,413.04 L663.02,413.40 L662.96,413.80 L662.89,414.26 L662.81,414.77 L662.72,415.35 L662.63,415.99 L662.53,416.70 L662.42,417.48 L662.30,418.33 L662.18,419.27 L662.05,420.29 L661.91,421.38 L661.77,422.57 L661.62,423.83 L661.47,425.18 L661.31,426.62 L661.15,428.13 L660.98,429.73 L660.82,431.39 L660.66,433.14 L660.49,434.95 L660.33,436.82 L660.17,438.74 L660.02,440.71 L659.87,442.73 L659.73,444.78 L659.60,446.85 L659.48,448.95 L659.37,451.05 L659.27,453.15 L659.18,455.24 L659.11,457.32 L659.04,459.36 L659.00,461.38 L658.96,463.35 L658.94,465.28 L658.94,467.15 L658.95,468.96 L658.97,470.70 L659.01,472.36 L659.07,473.95 L659.14,475.46 L659.22,476.89 L659.31,478.23 L659.42,479.49 L659.54,480.65 L659.67,481.73 L659.81,482.72 L659.95,483.62 L660.11,484.44 L660.28,485.17 L660.45,485.83 L660.63,486.41 L660.81,486.92 L661.00,487.35 L661.19,487.73 L661.39,488.04 L661.59,488.30 L661.79,488.50 L662.00,488.66 L662.20,488.79 L662.41,488.88 L662.62,488.94 L662.82,488.97 L663.03,488.99 L663.24,489.00 L663.45,489.00 L663.66,489.00 L663.87,488.99 L664.08,488.97 L664.28,488.94 L664.49,488.88 L664.70,488.79 L664.90,488.66 L665.11,488.50 L665.31,488.30 L665.51,488.04 L665.71,487.73 L665.90,487.35 L666.09,486.92 L666.27,486.41 L666.45,485.83 L666.62,485.17 L666.79,484.44 L666.95,483.62 L667.09,482.72 L667.23,481.73 L667.36,480.65 L667.48,479.49 L667.59,478.23 L667.68,476.89 L667.76,475.46 L667.83,473.95 L667.89,472.36 L667.93,470.70 L667.95,468.96 L667.96,467.15 L667.96,465.28 L667.94,463.35 L667.90,461.38 L667.86,459.36 L667.79,457.32 L667.72,455.24 L667.63,453.15 L667.53,451.05 L667.42,448.95 L667.30,446.85 L667.17,444.78 L667.03,442.73 L666.88,440.71 L666.73,438.74 L666.57,436.82 L666.41,434.95 L666.24,433.14 L666.08,431.39 L665.92,429.73 L665.75,428.13 L665.59,426.62 L665.43,425.18 L665.28,423.83 L665.13,422.57 L664.99,421.38 L664.85,420.29 L664.72,419.27 L664.60,418.33 L664.48,417.48 L664.37,416.70 L664.27,415.99 L664.18,415.35 L664.09,414.77 L664.01,414.26 L663.94,413.80 L663.88,413.40 L663.82,413.04 L663.77,412.73 L663.72,412.46 L663.68,412.23 L663.65,412.02 L663.62,411.85 L663.59,411.70 L663.57,411.58 L663.55,411.47 L663.53,411.38 L663.51,411.31 L663.50,411.25 L663.49,411.20 L663.48,411.16 L663.48,411.13 L663.47,411.10 L663.47,411.08 L663.46,411.06 L663.46,411.05 L663.46,411.04 L663.46,411.03 L663.45,411.02 L663.45,411.02 L663.45,411.01Z" fill="none" stroke="#ea0c20" stroke-width="1.7" stroke-linejoin="round"/>
<line x1="562.35" y1="516" x2="575.95" y2="516" stroke="#ea0c20" stroke-width="2"/>
<text x="577.65" y="517.8" class="leg">C0/C180</text>
<line x1="611.65" y1="516" x2="625.45" y2="516" stroke="#91cd19" stroke-width="2"/>
<text x="628.25" y="517.8" class="leg">C90/C270</text>
<line x1="786.5" y1="325.4" x2="999.5" y2="325.4" stroke="#8a8c85" stroke-width="1.15"/>
<line x1="786.5" y1="353.83" x2="999.5" y2="353.83" stroke="#8a8c85" stroke-width="1.15"/>
<line x1="786.5" y1="382.26" x2="999.5" y2="382.26" stroke="#8a8c85" stroke-width="1.15"/>
<line x1="786.5" y1="410.69" x2="999.5" y2="410.69" stroke="#8a8c85" stroke-width="1.15"/>
<line x1="786.5" y1="439.12" x2="999.5" y2="439.12" stroke="#8a8c85" stroke-width="1.15"/>
<line x1="786.5" y1="467.55" x2="999.5" y2="467.55" stroke="#8a8c85" stroke-width="1.15"/>
<line x1="786.5" y1="495.98" x2="999.5" y2="495.98" stroke="#8a8c85" stroke-width="1.15"/>
<text x="785.50" y="345.7" class="hs">h</text>
<text x="791.80" y="345.7" class="hs">（</text>
<text transform="translate(805.70,345.7) scale(0.56,1)" class="hs">m</text>
<text x="813.50" y="345.7" class="hs">）</text>
<text x="834.50" y="345.7" class="hs">E</text>
<text x="842.50" y="345.7" class="hs">a</text>
<text x="850.10" y="345.7" class="hs">v</text>
<text x="856.90" y="345.7" class="hs">g</text>
<text x="859.90" y="345.7" class="hs">（</text>
<text x="874.40" y="345.7" class="hs">l</text>
<text x="881.70" y="345.7" class="hs">x</text>
<text x="889.90" y="345.7" class="hs">）</text>
<text x="900.9" y="345.5" class="imp" textLength="51.5" lengthAdjust="spacingAndGlyphs">Emax<tspan class="par" dy="-1.1">(</tspan><tspan dy="1.1">lx</tspan><tspan class="par" dy="-1.1">)</tspan></text>
<text x="969.8" y="345.5" class="imp" textLength="28.7" lengthAdjust="spacingAndGlyphs">D<tspan class="par" dy="-1.1">(</tspan><tspan dy="1.1">m</tspan><tspan class="par" dy="-1.1">)</tspan></text>
<text x="804.0" y="373.7" class="song" text-anchor="middle">2</text>
<text x="860.0" y="373.93" class="num" text-anchor="middle">9839</text>
<text x="926.1" y="373.93" class="num" text-anchor="middle">14388</text>
<text x="984.0" y="373.93" class="num" text-anchor="middle">0.48</text>
<text x="804.0" y="401.4" class="song" text-anchor="middle">4</text>
<text x="860.0" y="402.36" class="num" text-anchor="middle">2460</text>
<text x="926.1" y="402.36" class="num" text-anchor="middle">3597</text>
<text x="984.0" y="402.36" class="num" text-anchor="middle">0.96</text>
<text x="804.0" y="428" class="song" text-anchor="middle">6</text>
<text x="860.0" y="430.79" class="num" text-anchor="middle">1093</text>
<text x="926.1" y="430.79" class="num" text-anchor="middle">1599</text>
<text x="984.0" y="430.79" class="num" text-anchor="middle">1.45</text>
<text x="804.0" y="455.3" class="song" text-anchor="middle">8</text>
<text x="860.0" y="459.22" class="num" text-anchor="middle">614</text>
<text x="926.1" y="459.22" class="num" text-anchor="middle">899</text>
<text x="984.0" y="459.22" class="num" text-anchor="middle">1.93</text>
<text x="804.0" y="480.8" class="song" text-anchor="middle">10</text>
<text x="860.0" y="487.65" class="num" text-anchor="middle">393</text>
<text x="926.1" y="487.65" class="num" text-anchor="middle">575</text>
<text x="984.0" y="487.65" class="num" text-anchor="middle">2.42</text>
</svg></body></html>
